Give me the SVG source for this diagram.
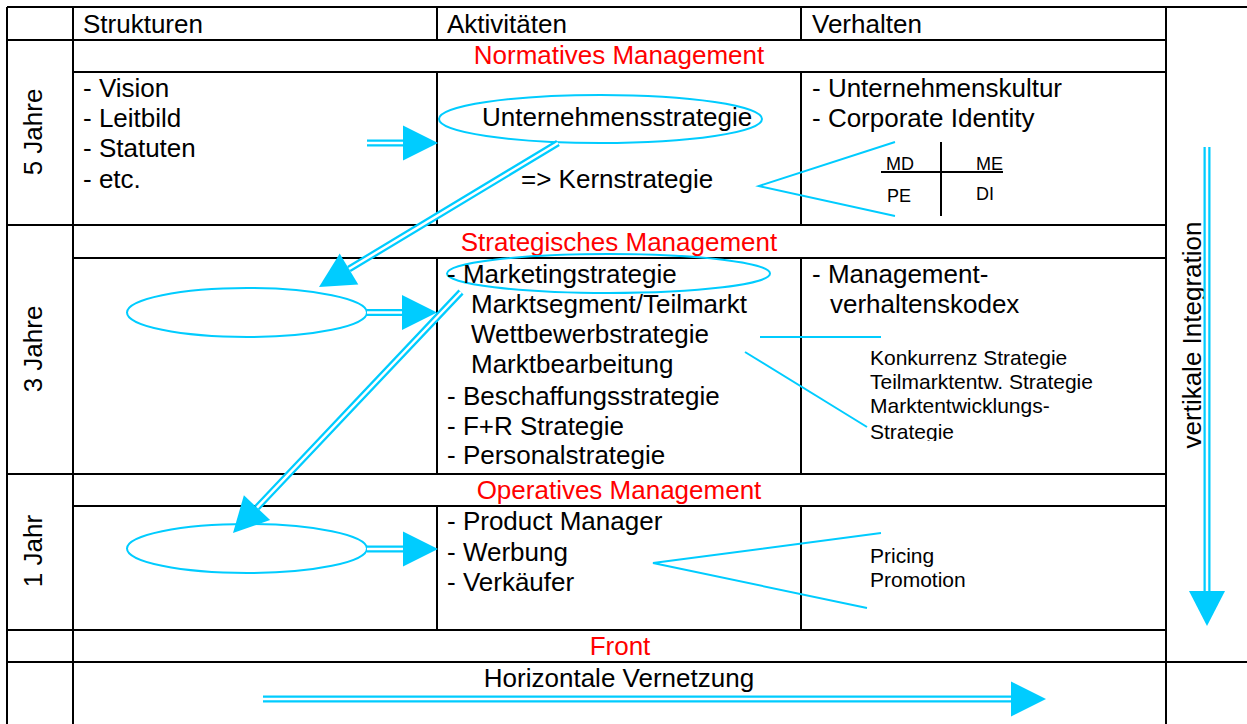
<svg xmlns="http://www.w3.org/2000/svg" width="1247" height="724" viewBox="0 0 1247 724">
<style>
text{font-family:"Liberation Sans",Arial,sans-serif;fill:#000}
.t{font-size:26px}
.r{font-size:26px;fill:#ff0000}
.s{font-size:21px}
.m{font-size:18px}
.c{text-anchor:middle}
.grid line{stroke:#000;stroke-width:2}
.thin{stroke:#00ccff;stroke-width:2;fill:none}
.dbo{stroke:#00ccff;stroke-width:7;fill:none}
.dbi{stroke:#fff;stroke-width:2.5;fill:none}
.head{fill:#00ccff}
</style>
<defs>
<clipPath id="clipStr"><rect x="860" y="300" width="300" height="141"/></clipPath>
</defs>
<rect width="1247" height="724" fill="#fff"/>
<g id="grid" class="grid">
<line x1="7" y1="7" x2="1247" y2="7"/>
<line x1="7" y1="40" x2="1166" y2="40"/>
<line x1="73" y1="72" x2="1166" y2="72"/>
<line x1="7" y1="225" x2="1166" y2="225"/>
<line x1="73" y1="258" x2="1166" y2="258"/>
<line x1="7" y1="474" x2="1166" y2="474"/>
<line x1="73" y1="506" x2="1166" y2="506"/>
<line x1="7" y1="630" x2="1166" y2="630"/>
<line x1="7" y1="662" x2="1247" y2="662"/>
<line x1="7" y1="7" x2="7" y2="724"/>
<line x1="73" y1="7" x2="73" y2="724"/>
<line x1="1166" y1="7" x2="1166" y2="724"/>
<line x1="437" y1="7" x2="437" y2="40"/>
<line x1="437" y1="72" x2="437" y2="225"/>
<line x1="437" y1="258" x2="437" y2="474"/>
<line x1="437" y1="506" x2="437" y2="630"/>
<line x1="801" y1="7" x2="801" y2="40"/>
<line x1="801" y1="72" x2="801" y2="225"/>
<line x1="801" y1="258" x2="801" y2="474"/>
<line x1="801" y1="506" x2="801" y2="630"/>
</g>
<g id="header">
<text class="t" x="83" y="33">Strukturen</text>
<text class="t" x="447" y="33">Aktivitäten</text>
<text class="t" x="812" y="33">Verhalten</text>
</g>
<g id="row-labels">
<text class="t c" transform="translate(42,132) rotate(-90)">5 Jahre</text>
<text class="t c" transform="translate(42,349) rotate(-90)">3 Jahre</text>
<text class="t c" transform="translate(42,551) rotate(-90)">1 Jahr</text>
</g>
<g id="bands">
<text class="r c" x="619" y="64">Normatives Management</text>
<text class="r c" x="619" y="251">Strategisches Management</text>
<text class="r c" x="619" y="499">Operatives Management</text>
<text class="r c" x="620" y="655">Front</text>
<text class="t c" x="619" y="687">Horizontale Vernetzung</text>
</g>
<g id="n-strukturen">
<text class="t" x="83" y="97">- Vision</text>
<text class="t" x="83" y="127">- Leitbild</text>
<text class="t" x="83" y="157">- Statuten</text>
<text class="t" x="83" y="188">- etc.</text>
</g>
<g id="n-unternehmensstrategie">
<ellipse class="thin" cx="600.5" cy="119" rx="161.5" ry="24"/>
<text class="t" x="482" y="126">Unternehmensstrategie</text>
<text class="t" x="521" y="188">=&gt; Kernstrategie</text>
</g>
<g id="n-verhalten-normativ">
<text class="t" x="812" y="97">- Unternehmenskultur</text>
<text class="t" x="812" y="127">- Corporate Identity</text>
</g>
<g id="n-matrix">
<line x1="941" y1="142" x2="941" y2="216" stroke="#000" stroke-width="2"/>
<line x1="881" y1="172" x2="1003" y2="172" stroke="#000" stroke-width="2"/>
<text class="m" x="886" y="170">MD</text>
<text class="m" x="976" y="170">ME</text>
<text class="m" x="887" y="202">PE</text>
<text class="m" x="976" y="200">DI</text>
</g>
<g id="n-ellipse-3">
<ellipse class="thin" cx="247" cy="312.5" rx="120" ry="24.5"/>
</g>
<g id="n-marketing">
<ellipse class="thin" cx="608.5" cy="273.5" rx="161.5" ry="19.5"/>
<text class="t" x="447" y="283">- Marketingstrategie</text>
<text class="t" x="471" y="313">Marktsegment/Teilmarkt</text>
<text class="t" x="471" y="343">Wettbewerbstrategie</text>
<text class="t" x="471" y="373">Marktbearbeitung</text>
<text class="t" x="447" y="405">- Beschaffungsstrategie</text>
<text class="t" x="447" y="435">- F+R Strategie</text>
<text class="t" x="447" y="464">- Personalstrategie</text>
</g>
<g id="n-verhalten-strategisch">
<text class="t" x="812" y="283">- Management-</text>
<text class="t" x="830" y="313">verhaltenskodex</text>
</g>
<g id="n-konkurrenz" clip-path="url(#clipStr)">
<text class="s" x="870" y="365">Konkurrenz Strategie</text>
<text class="s" x="870" y="389">Teilmarktentw. Strategie</text>
<text class="s" x="870" y="413">Marktentwicklungs-</text>
<text class="s" x="870" y="439">Strategie</text>
</g>
<g id="n-ellipse-1">
<ellipse class="thin" cx="247" cy="548.5" rx="120" ry="24.5"/>
</g>
<g id="n-operativ">
<text class="t" x="447" y="530">- Product Manager</text>
<text class="t" x="447" y="561">- Werbung</text>
<text class="t" x="447" y="591">- Verkäufer</text>
</g>
<g id="n-pricing">
<text class="s" x="870" y="563">Pricing</text>
<text class="s" x="870" y="587">Promotion</text>
</g>
<g id="n-vertikal">
<text class="t c" transform="translate(1201,335) rotate(-90)">vertikale Integration</text>
</g>
<g id="connectors">
<polyline class="thin" points="895,142 759,186 895,216"/>
<line class="thin" x1="760" y1="337" x2="881" y2="337"/>
<line class="thin" x1="745" y1="352" x2="867" y2="427"/>
<polyline class="thin" points="881,533 653,563 867,608"/>
<path class="dbo" d="M367,143H404M558,143L349,269M367,312.5H404M461,292L257,507.6M367,549H404M1207,147V592M263,699H1012"/>
<path class="dbi" d="M367,143H404M558,143L349,269M367,312.5H404M461,292L257,507.6M367,549H404M1207,147V592M263,699H1012"/>
<polygon class="head" points="438,143 403,125.5 403,160.5"/>
<polygon class="head" points="319,287 358.3,284.4 339.7,253.6"/>
<polygon class="head" points="437,312.5 402,295 402,330"/>
<polygon class="head" points="233,533 270.1,520 243.9,495.2"/>
<polygon class="head" points="438,549 403,531.5 403,566.5"/>
<polygon class="head" points="1207,626 1189,591 1225,591"/>
<polygon class="head" points="1046,699 1011,681.5 1011,716.5"/>
</g>
</svg>
